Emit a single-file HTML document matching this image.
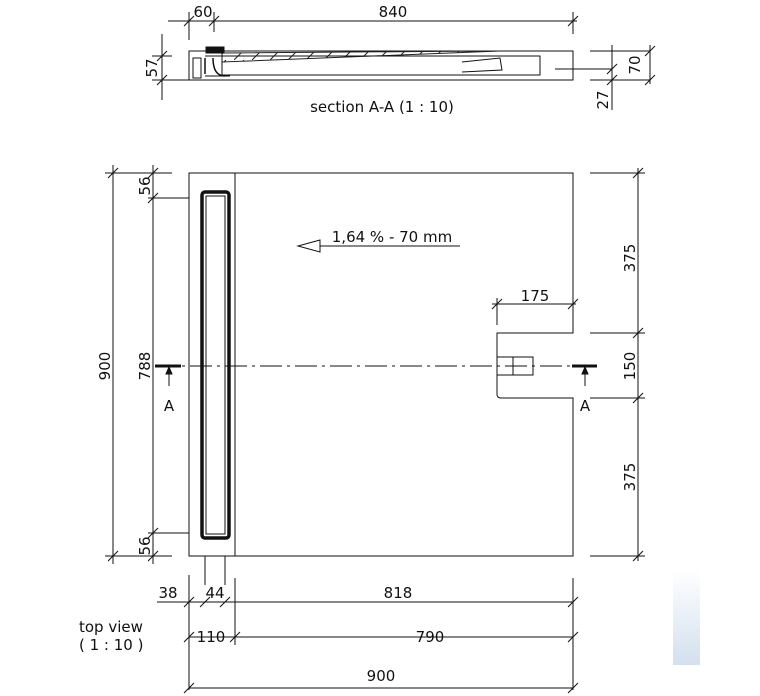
<!DOCTYPE html>
<html><head><style>body{margin:0;background:#fff}svg{display:block}text{font-family:"DejaVu Sans","Liberation Sans",sans-serif;font-size:15px;fill:#111}</style></head><body>
<svg width="760" height="696" viewBox="0 0 760 696" xmlns="http://www.w3.org/2000/svg">
<defs><pattern id="h" width="18" height="10" patternUnits="userSpaceOnUse"><path d="M0 10 L10 0" stroke="#222" stroke-width="1"/></pattern>
<linearGradient id="wm" x1="0" y1="0" x2="0" y2="1"><stop offset="0" stop-color="#fff"/><stop offset="1" stop-color="#d3e0ee"/></linearGradient></defs>
<g stroke="#111" stroke-width="1" fill="none">
<rect x="673" y="570" width="27" height="95" fill="url(#wm)" stroke="none"/>
<line x1="168" y1="21" x2="577" y2="21"/>
<line x1="189" y1="12" x2="189" y2="40"/><line x1="214" y1="12" x2="214" y2="32"/><line x1="573" y1="12" x2="573" y2="34"/>
<path d="M184 26l10-10M209 26l10-10M568 26l10-10"/>
<rect x="189" y="51" width="384" height="29"/>
<path d="M222 53 L490 51 L500 51 L222 62Z" fill="url(#h)" stroke="#222"/>
<rect x="222" y="56" width="318" height="19"/>
<path d="M462 62 L500 58 L502 70 L462 72" />
<line x1="205" y1="56" x2="222" y2="56"/><line x1="205" y1="76" x2="230" y2="76"/>
<rect x="206" y="47" width="18" height="6" fill="#111"/>
<path d="M205 58v16M213 58q0 18 12 18" stroke-width="1.5"/>
<rect x="193" y="58" width="8" height="20"/>
<line x1="555" y1="69" x2="612" y2="69"/>
<line x1="162" y1="34" x2="162" y2="100"/><line x1="152" y1="56" x2="172" y2="56"/><line x1="152" y1="80" x2="189" y2="80"/>
<path d="M157 61l10-10M157 85l10-10"/>
<line x1="590" y1="51" x2="650" y2="51"/><line x1="590" y1="80" x2="650" y2="80"/>
<line x1="612" y1="45" x2="612" y2="110"/><line x1="650" y1="45" x2="650" y2="84"/>
<path d="M607 74l10-10M607 85l10-10M645 56l10-10M645 85l10-10"/>
<path d="M189 173H573V333H497Q497 333 497 337V394Q497 398 501 398H573V556H189Z"/>
<line x1="235" y1="173" x2="235" y2="556"/>
<rect x="202" y="192" width="27" height="346" rx="3" stroke-width="3.5"/>
<rect x="206" y="196" width="19" height="338" stroke-width="1"/>
<rect x="497" y="357" width="36" height="18"/><line x1="513" y1="357" x2="513" y2="375"/>
<line x1="155" y1="366" x2="597" y2="366" stroke-dasharray="22 5 3 5"/>
<line x1="155" y1="366" x2="181" y2="366" stroke-width="3"/><line x1="572" y1="366" x2="597" y2="366" stroke-width="3"/>
<line x1="169" y1="370" x2="169" y2="386"/><line x1="585" y1="370" x2="585" y2="386"/>
<path d="M166 374l3-7 3 7zM582 374l3-7 3 7z" fill="#111"/>
<line x1="300" y1="246" x2="460" y2="246"/><path d="M320 240L298 246L320 252Z" fill="#fff"/>
<line x1="497" y1="298" x2="497" y2="325"/><line x1="492" y1="304" x2="576" y2="304"/><path d="M492 309l10-10M568 309l10-10"/>
<line x1="105" y1="173" x2="172" y2="173"/><line x1="113" y1="165" x2="113" y2="564"/><line x1="105" y1="556" x2="172" y2="556"/>
<line x1="153" y1="165" x2="153" y2="564"/>
<line x1="148" y1="198" x2="189" y2="198"/><line x1="148" y1="533" x2="189" y2="533"/>
<path d="M108 178l10-10M108 561l10-10M148 178l10-10M148 203l10-10M148 538l10-10M148 561l10-10"/>
<line x1="590" y1="173" x2="645" y2="173"/><line x1="590" y1="333" x2="645" y2="333"/><line x1="590" y1="398" x2="645" y2="398"/><line x1="590" y1="556" x2="645" y2="556"/>
<line x1="638" y1="168" x2="638" y2="561"/>
<path d="M633 178l10-10M633 338l10-10M633 403l10-10M633 561l10-10"/>
<line x1="189" y1="575" x2="189" y2="690"/><line x1="205" y1="556" x2="205" y2="585"/><line x1="225" y1="556" x2="225" y2="585"/><line x1="235" y1="578" x2="235" y2="645"/><line x1="573" y1="578" x2="573" y2="690"/>
<line x1="157" y1="602" x2="573" y2="602"/><line x1="189" y1="637" x2="573" y2="637"/><line x1="189" y1="688" x2="573" y2="688"/>
<path d="M184 607l10-10M200 607l10-10M220 607l10-10M568 607l10-10M184 642l10-10M230 642l10-10M568 642l10-10M184 693l10-10M568 693l10-10"/>
</g>
<text x="203" y="17" text-anchor="middle">60</text><text x="393" y="17" text-anchor="middle">840</text>
<text x="382" y="112" text-anchor="middle">section A-A (1 : 10)</text>
<text transform="translate(157 68) rotate(-90)" text-anchor="middle">57</text>
<text transform="translate(640 65) rotate(-90)" text-anchor="middle">70</text>
<text transform="translate(608 100) rotate(-90)" text-anchor="middle">27</text>
<text x="392" y="242" text-anchor="middle">1,64 % - 70 mm</text>
<text x="535" y="301" text-anchor="middle">175</text>
<text x="169" y="411" text-anchor="middle">A</text><text x="585" y="411" text-anchor="middle">A</text>
<text transform="translate(110 366) rotate(-90)" text-anchor="middle">900</text>
<text transform="translate(150 366) rotate(-90)" text-anchor="middle">788</text>
<text transform="translate(150 186) rotate(-90)" text-anchor="middle">56</text>
<text transform="translate(150 546) rotate(-90)" text-anchor="middle">56</text>
<text transform="translate(635 258) rotate(-90)" text-anchor="middle">375</text>
<text transform="translate(635 366) rotate(-90)" text-anchor="middle">150</text>
<text transform="translate(635 477) rotate(-90)" text-anchor="middle">375</text>
<text x="168" y="598" text-anchor="middle">38</text><text x="215" y="598" text-anchor="middle">44</text><text x="398" y="598" text-anchor="middle">818</text>
<text x="211" y="642" text-anchor="middle">110</text><text x="430" y="642" text-anchor="middle">790</text>
<text x="381" y="681" text-anchor="middle">900</text>
<text x="79" y="632">top view</text><text x="79" y="650">( 1 : 10 )</text>
</svg></body></html>
